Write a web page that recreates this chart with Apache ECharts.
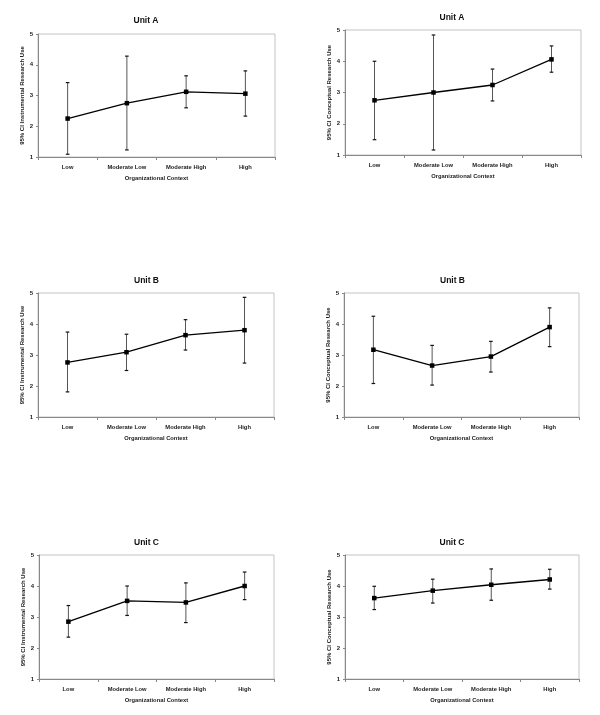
<!DOCTYPE html>
<html>
<head>
<meta charset="utf-8">
<script src="https://cdn.jsdelivr.net/npm/echarts@6/dist/echarts.min.js"></script>
<style>html,body{margin:0;padding:0;background:#fff;}#c{width:600px;height:715px;}</style>
</head>
<body>
<div id="c"></div>
<script>
const categories = ['Low', 'Moderate Low', 'Moderate High', 'High'];
const yTicks = [1, 2, 3, 4, 5];

const instrA_mean = [2.25, 2.75, 3.12, 3.06];
const instrA_low  = [1.09, 1.23, 2.60, 2.33];
const instrA_high = [3.42, 4.28, 3.64, 3.80];

const conceptA_mean = [2.75, 3.00, 3.24, 4.06];
const conceptA_low  = [1.49, 1.16, 2.73, 3.65];
const conceptA_high = [4.00, 4.84, 3.75, 4.49];

const instrB_mean = [2.76, 3.09, 3.64, 3.80];
const instrB_low  = [1.81, 2.50, 3.16, 2.74];
const instrB_high = [3.74, 3.67, 4.14, 4.86];

const conceptB_mean = [3.17, 2.66, 2.95, 3.90];
const conceptB_low  = [2.08, 2.03, 2.45, 3.27];
const conceptB_high = [4.25, 3.31, 3.44, 4.52];

const instrC_mean = [2.85, 3.52, 3.47, 4.00];
const instrC_low  = [2.35, 3.05, 2.82, 3.56];
const instrC_high = [3.37, 4.00, 4.10, 4.45];

const conceptC_mean = [3.61, 3.85, 4.04, 4.21];
const conceptC_low  = [3.24, 3.45, 3.54, 3.90];
const conceptC_high = [3.99, 4.22, 4.55, 4.54];

const panels = [
  {title: 'Unit A', yName: '95% CI Instrumental Research Use', mean: instrA_mean, low: instrA_low, high: instrA_high,
   grid: {left: 38, top: 34, width: 237, height: 123}, tx: 146, ty: 21},
  {title: 'Unit A', yName: '95% CI Conceptual Research Use', mean: conceptA_mean, low: conceptA_low, high: conceptA_high,
   grid: {left: 345, top: 30, width: 236, height: 125}, tx: 452, ty: 18.5},
  {title: 'Unit B', yName: '95% CI Instrumental Research Use', mean: instrB_mean, low: instrB_low, high: instrB_high,
   grid: {left: 38, top: 293, width: 236, height: 124}, tx: 146.5, ty: 281},
  {title: 'Unit B', yName: '95% CI Conceptual Research Use', mean: conceptB_mean, low: conceptB_low, high: conceptB_high,
   grid: {left: 344, top: 293, width: 235, height: 124}, tx: 452.5, ty: 281},
  {title: 'Unit C', yName: '95% CI Instrumental Research Use', mean: instrC_mean, low: instrC_low, high: instrC_high,
   grid: {left: 39, top: 555, width: 235, height: 124}, tx: 146.5, ty: 543},
  {title: 'Unit C', yName: '95% CI Conceptual Research Use', mean: conceptC_mean, low: conceptC_low, high: conceptC_high,
   grid: {left: 345, top: 555, width: 234, height: 124}, tx: 452, ty: 543}
];

const FONT = '"Liberation Sans", Arial, sans-serif';
const option = {
  animation: false,
  backgroundColor: '#fff',
  title: [], grid: [], xAxis: [], yAxis: [], series: []
};

panels.forEach((p, i) => {
  option.title.push({
    text: p.title, left: p.tx, top: p.ty - 5, textAlign: 'center', padding: 0,
    textStyle: {fontFamily: FONT, fontSize: 8.5, fontWeight: 'bold', color: '#111'}
  });
  option.grid.push(Object.assign({show: true, borderColor: '#c4c4c4', borderWidth: 1, backgroundColor: '#fff'}, p.grid));
  option.xAxis.push({
    type: 'category', gridIndex: i, data: categories, boundaryGap: true,
    name: 'Organizational Context', nameLocation: 'middle', nameGap: 18,
    nameTextStyle: {fontFamily: FONT, fontSize: 5.8, fontWeight: 'bold', color: '#222'},
    axisLine: {lineStyle: {color: '#888', width: 1}},
    axisTick: {show: true, length: 3, inside: false, lineStyle: {color: '#888'}},
    axisLabel: {fontFamily: FONT, fontSize: 5.8, fontWeight: 'bold', color: '#222', margin: 7, interval: 0},
    splitLine: {show: false}
  });
  option.yAxis.push({
    type: 'value', gridIndex: i, min: yTicks[0], max: yTicks[yTicks.length - 1], interval: 1,
    name: p.yName, nameLocation: 'middle', nameGap: 12,
    nameTextStyle: {fontFamily: FONT, fontSize: 6, fontWeight: 'bold', color: '#222'},
    axisLine: {show: true, lineStyle: {color: '#888', width: 1}},
    axisTick: {show: true, length: 2, lineStyle: {color: '#888'}},
    axisLabel: {fontFamily: FONT, fontSize: 6, fontWeight: 'bold', color: '#222', margin: 5},
    splitLine: {show: false}
  });
  const errData = categories.map((c, k) => [k, p.low[k], p.high[k]]);
  option.series.push({
    type: 'custom', xAxisIndex: i, yAxisIndex: i, z: 2,
    data: errData,
    encode: {x: 0, y: [1, 2]},
    renderItem: function (params, api) {
      const x = api.value(0);
      const lo = api.coord([x, api.value(1)]);
      const hi = api.coord([x, api.value(2)]);
      const w = 1.8;
      return {
        type: 'group',
        children: [
          {type: 'line', shape: {x1: lo[0], y1: lo[1], x2: hi[0], y2: hi[1]}, style: {stroke: '#555', lineWidth: 1}},
          {type: 'line', shape: {x1: lo[0] - w, y1: lo[1], x2: lo[0] + w, y2: lo[1]}, style: {stroke: '#111', lineWidth: 1.2}},
          {type: 'line', shape: {x1: hi[0] - w, y1: hi[1], x2: hi[0] + w, y2: hi[1]}, style: {stroke: '#111', lineWidth: 1.2}}
        ]
      };
    }
  });
  option.series.push({
    type: 'line', xAxisIndex: i, yAxisIndex: i, z: 3,
    data: p.mean,
    symbol: 'rect', symbolSize: 4.5,
    itemStyle: {color: '#000'},
    lineStyle: {color: '#000', width: 1.3}
  });
});

const chart = echarts.init(document.getElementById('c'), null, {renderer: 'canvas'});
chart.setOption(option);
</script>
</body>
</html>
